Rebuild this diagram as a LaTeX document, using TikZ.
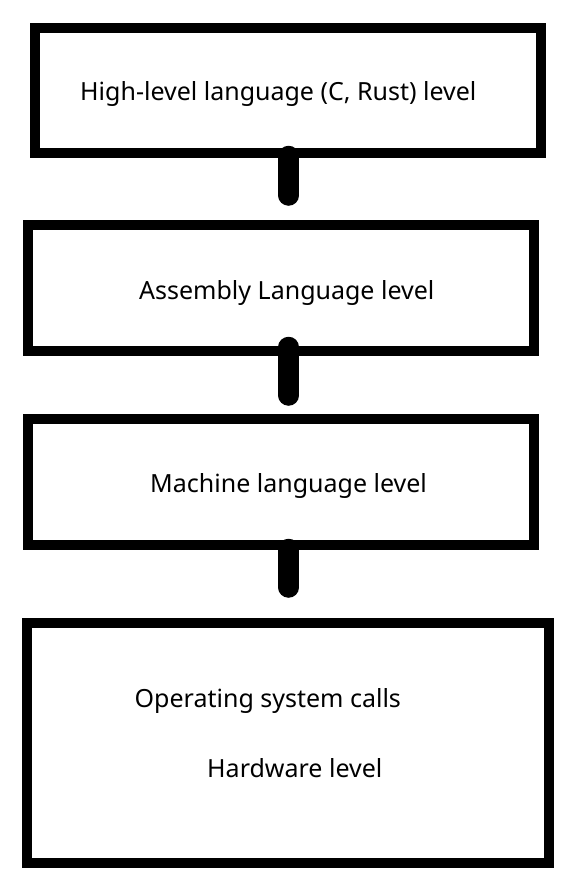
\documentclass[tikz,border=0pt]{standalone}
\usepackage{fontspec}
\setmainfont{Noto Sans}
\begin{document}
\begin{tikzpicture}[x=1pt,y=-1pt]
\tikzset{hop/.style={draw,line width=9.5pt,inner sep=0pt,outer sep=0pt}, % level box
	chu/.style={anchor=base west,inner sep=0pt,font=\fontsize{25}{30}\selectfont},
	noi/.style={line width=20.5pt,line cap=round}} % thick link between levels
\useasboundingbox (0,0) rectangle (572,884);
\node[hop,minimum width=506pt,minimum height=125pt] (B1) at (288,90.5) {};
\node[hop,minimum width=506pt,minimum height=126pt] (B2) at (281,288) {};
\node[hop,minimum width=506pt,minimum height=126pt] (B3) at (281,482) {};
\node[hop,minimum width=522pt,minimum height=240pt] (B4) at (288,743) {};
\node[chu] (T1) at (80,100.7) {High-level language (C, Rust) level};
\node[chu] (T2) at (139,299.3) {Assembly Language level};
\node[chu] (T3) at (150,492) {Machine language level};
\node[chu] (T4) at (134.5,707.3) {Operating system calls};
\node[chu] (T5) at (207,777.7) {Hardware level};
\coordinate (E1) at (288.7,195.5); % free ends of the links
\coordinate (E2) at (288.7,395.5);
\coordinate (E3) at (288.7,587.5);
\draw[noi] ([yshift=-3pt]B1.south -| E1) -- (E1);
\draw[noi] ([yshift=4pt]B2.south -| E2) -- (E2);
\draw[noi] ([yshift=-4pt]B3.south -| E3) -- (E3);
\end{tikzpicture}
\end{document}
